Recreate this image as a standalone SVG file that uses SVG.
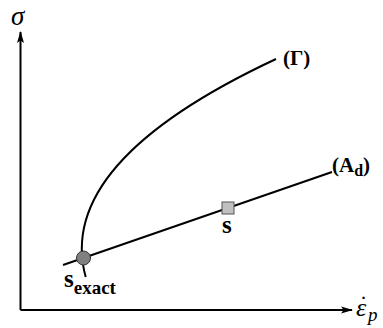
<svg xmlns="http://www.w3.org/2000/svg" width="383" height="328" viewBox="0 0 383 328">
<style>
.ax{stroke:#000;stroke-width:2;fill:none}
.cv{stroke:#000;stroke-width:2;fill:none}
.lbl{font-family:"Liberation Serif","Times New Roman",serif;font-weight:bold;fill:#000}
.math{font-family:"Liberation Serif","Times New Roman",serif;font-style:italic;fill:#000}
</style>
<defs>
<marker id="arr" viewBox="0 0 12 8" refX="11" refY="4" markerWidth="12" markerHeight="8" markerUnits="userSpaceOnUse" orient="auto">
<path d="M0,0.5 L12,4 L0,7.5 L2.5,4 Z" fill="#000"/>
</marker>
</defs>
<g id="axes">
<path class="ax" d="M20.5,310 L20.5,32" marker-end="url(#arr)"/>
<path class="ax" d="M20.5,310 L352,310" marker-end="url(#arr)"/>
<text class="math" x="11" y="25" font-size="27">σ</text>
<text class="math" x="356" y="316" font-size="26">ε<tspan x="358" dy="-4" font-size="24">˙</tspan><tspan x="368" dy="9" font-size="19">p</tspan></text>
</g>
<g id="connectors">
<path id="gamma" class="cv" d="M85.7,277 C65.7,204.3 122,131 276,59"/>
<path id="ad" class="cv" d="M63,265 L332,172"/>
</g>
<g id="gamma-label"><text class="lbl" x="283" y="65" font-size="21">(Γ)</text></g>
<g id="ad-label"><text class="lbl" x="332" y="172" font-size="21">(A<tspan font-size="16" dy="4">d</tspan><tspan dy="-4">)</tspan></text></g>
<g id="s-exact">
<circle cx="83.5" cy="258" r="7" fill="#808080" stroke="#333" stroke-width="1"/>
<text class="lbl" x="64" y="287" font-size="25">s<tspan font-size="19" dy="7">exact</tspan></text>
</g>
<g id="s">
<rect x="222" y="202" width="12" height="12" fill="#c0c0c0" stroke="#555" stroke-width="1"/>
<text class="lbl" x="222" y="233" font-size="25">s</text>
</g>
</svg>
